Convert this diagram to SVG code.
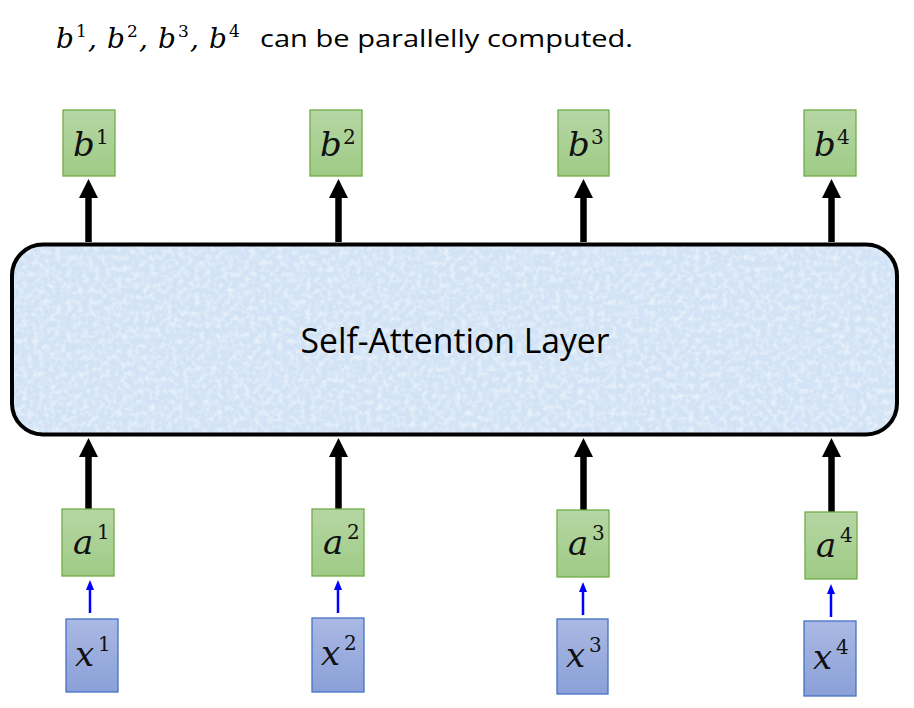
<svg xmlns="http://www.w3.org/2000/svg" width="914" height="708" viewBox="0 0 914 708">
<style>
.g{stroke:#70ad47;stroke-width:1.3;fill:url(#gg)}
.bl{stroke:#4472c4;stroke-width:1.3;fill:url(#bg)}
.m{font-family:"DejaVu Serif","Liberation Serif",serif;font-style:italic;font-size:34px;fill:#111}
.s{font-family:"DejaVu Serif","Liberation Serif",serif;font-style:normal;font-size:20px;fill:#111}
.tm{font-family:"DejaVu Serif","Liberation Serif",serif;font-style:italic;font-size:28px;fill:#000}
.ts{font-family:"DejaVu Serif","Liberation Serif",serif;font-size:17px;fill:#000}
.tt{font-family:"Open Sans","Liberation Sans",sans-serif;font-size:23px;fill:#000}
.big{stroke:#000;stroke-width:6.5;fill:none}
.blue{stroke:#0000ff;stroke-width:2.5;fill:none}
</style>
<defs>
<linearGradient id="gg" x1="0" y1="0" x2="0" y2="1"><stop offset="0" stop-color="#b6d6a4"/><stop offset="1" stop-color="#9fcb86"/></linearGradient>
<linearGradient id="bg" x1="0" y1="0" x2="0" y2="1"><stop offset="0" stop-color="#aab9e4"/><stop offset="1" stop-color="#8ba0d8"/></linearGradient>
<marker id="ah" markerUnits="userSpaceOnUse" markerWidth="20" markerHeight="20" refX="1" refY="9.5" orient="auto"><path d="M0,0 L19,9.5 L0,19 z" fill="#000"/></marker>
<marker id="ab" markerUnits="userSpaceOnUse" markerWidth="11" markerHeight="9" refX="1" refY="4" orient="auto"><path d="M0,0 L10,4 L0,8 z" fill="#0000ff"/></marker>
<filter id="tex" x="0" y="0" width="100%" height="100%">
<feTurbulence type="fractalNoise" baseFrequency="0.18" numOctaves="3" seed="7" result="n"/>
<feColorMatrix in="n" type="matrix" values="0 0 0 0 1  0 0 0 0 1  0 0 0 0 1  0 0 0 1.2 -0.5" result="w"/>
<feComposite in="w" in2="SourceAlpha" operator="in"/>
</filter>
</defs>

<text y="48"><tspan class="tm" x="56">b</tspan><tspan class="ts" x="76" y="37">1</tspan><tspan class="tm" x="88" y="48">,</tspan><tspan class="tm" x="107">b</tspan><tspan class="ts" x="127" y="37">2</tspan><tspan class="tm" x="139" y="48">,</tspan><tspan class="tm" x="158">b</tspan><tspan class="ts" x="178" y="37">3</tspan><tspan class="tm" x="190" y="48">,</tspan><tspan class="tm" x="209">b</tspan><tspan class="ts" x="229" y="37">4</tspan></text>
<text class="tt" x="260" y="47" textLength="373" lengthAdjust="spacingAndGlyphs">can be parallelly computed.</text>

<g id="layer">
<rect x="12" y="244.5" width="885" height="190" rx="31" fill="#d2e3f6"/>
<rect x="12" y="244.5" width="885" height="190" rx="31" fill="#fff" filter="url(#tex)"/>
<rect x="12" y="244.5" width="885" height="190" rx="31" fill="none" stroke="#000" stroke-width="4"/>
<text x="455" y="353" text-anchor="middle" font-family="'Open Sans','Liberation Sans',sans-serif" font-size="34" textLength="309" lengthAdjust="spacingAndGlyphs" fill="#000">Self-Attention Layer</text>
</g>

<g id="connectors">
<line class="big" x1="88.5" y1="242" x2="88.5" y2="197" marker-end="url(#ah)"/>
<line class="big" x1="338.5" y1="242" x2="338.5" y2="197" marker-end="url(#ah)"/>
<line class="big" x1="583.5" y1="242" x2="583.5" y2="197" marker-end="url(#ah)"/>
<line class="big" x1="831.5" y1="242" x2="831.5" y2="197" marker-end="url(#ah)"/>
<line class="big" x1="88.5" y1="509" x2="88.5" y2="456" marker-end="url(#ah)"/>
<line class="big" x1="338.5" y1="509" x2="338.5" y2="456" marker-end="url(#ah)"/>
<line class="big" x1="583.5" y1="510" x2="583.5" y2="456" marker-end="url(#ah)"/>
<line class="big" x1="831.5" y1="512" x2="831.5" y2="456" marker-end="url(#ah)"/>
<line class="blue" x1="90" y1="613" x2="90" y2="589" marker-end="url(#ab)"/>
<line class="blue" x1="338" y1="613" x2="338" y2="589" marker-end="url(#ab)"/>
<line class="blue" x1="583" y1="615" x2="583" y2="591" marker-end="url(#ab)"/>
<line class="blue" x1="831" y1="617" x2="831" y2="593" marker-end="url(#ab)"/>
</g>

<g id="b1"><rect class="g" x="63" y="110" width="52" height="66"/><text class="m" x="73" y="156">b</text><text class="s" x="96" y="144">1</text></g>
<g id="b2"><rect class="g" x="310" y="110" width="52" height="66"/><text class="m" x="320" y="156">b</text><text class="s" x="343" y="144">2</text></g>
<g id="b3"><rect class="g" x="558" y="110" width="51" height="66"/><text class="m" x="568" y="156">b</text><text class="s" x="591" y="144">3</text></g>
<g id="b4"><rect class="g" x="804" y="110" width="52" height="66"/><text class="m" x="814" y="156">b</text><text class="s" x="837" y="144">4</text></g>

<g id="a1"><rect class="g" x="62" y="509" width="52" height="67"/><text class="m" x="73" y="554">a</text><text class="s" x="97" y="539">1</text></g>
<g id="a2"><rect class="g" x="312" y="509" width="52" height="67"/><text class="m" x="323" y="554">a</text><text class="s" x="347" y="539">2</text></g>
<g id="a3"><rect class="g" x="557" y="510" width="52" height="67"/><text class="m" x="568" y="555">a</text><text class="s" x="592" y="540">3</text></g>
<g id="a4"><rect class="g" x="805" y="512" width="52" height="67"/><text class="m" x="816" y="557">a</text><text class="s" x="840" y="542">4</text></g>

<g id="x1"><rect class="bl" x="66" y="619" width="52" height="73"/><text class="m" x="75" y="666">x</text><text class="s" x="98" y="651">1</text></g>
<g id="x2"><rect class="bl" x="312" y="618" width="52" height="74"/><text class="m" x="321" y="665">x</text><text class="s" x="344" y="650">2</text></g>
<g id="x3"><rect class="bl" x="557" y="619" width="51" height="75"/><text class="m" x="566" y="667">x</text><text class="s" x="589" y="652">3</text></g>
<g id="x4"><rect class="bl" x="804" y="621" width="52" height="75"/><text class="m" x="813" y="669">x</text><text class="s" x="836" y="654">4</text></g>
</svg>
